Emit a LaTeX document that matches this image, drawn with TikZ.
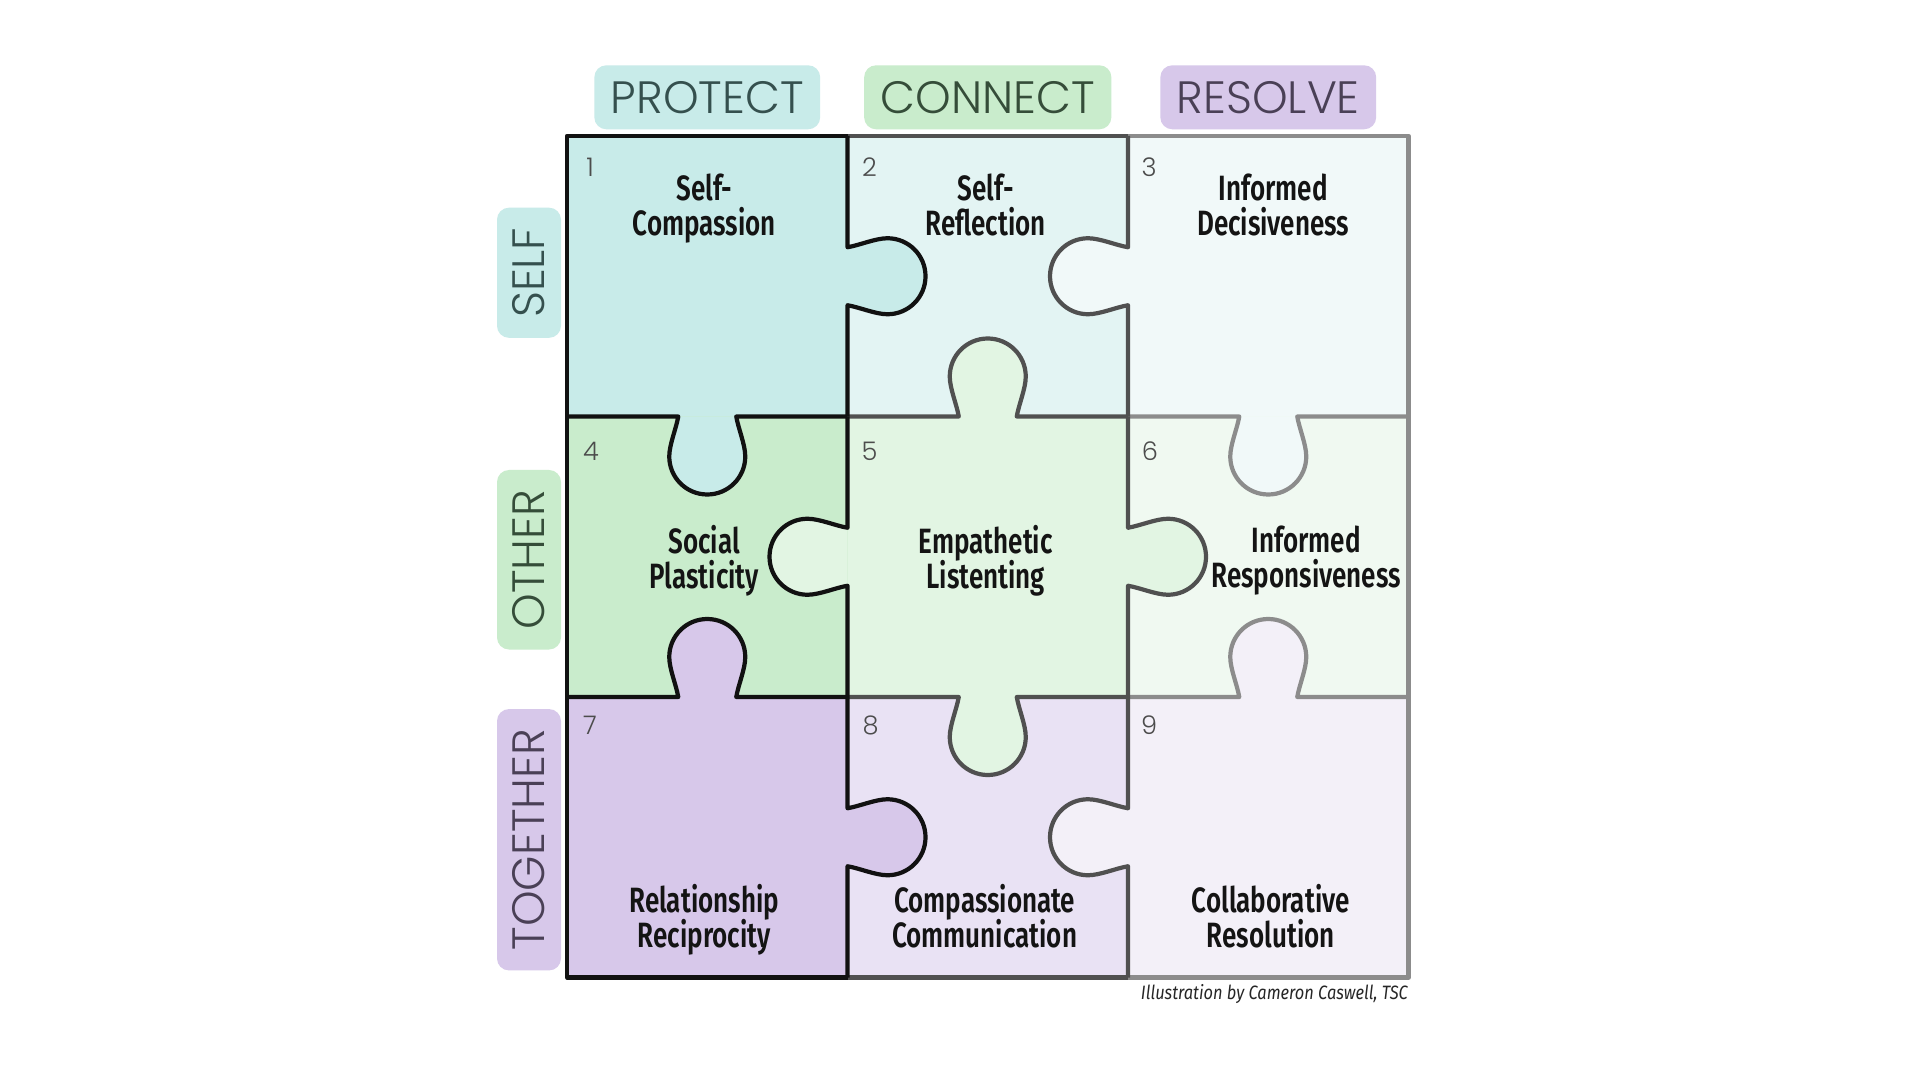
\documentclass[tikz,border=0pt]{standalone}
\usepackage{fontspec}
\setmainfont{Fira Sans}
\newfontfamily\piecefont[FakeStretch=0.74, BoldFont={* SemiBold}]{Fira Sans}
\newfontfamily\headfont{Poppins}[UprightFont={* Light}]
\newfontfamily\creditfont[FakeStretch=0.85]{Fira Sans}
\usepackage{xcolor}
\usetikzlibrary{positioning,calc}

\definecolor{selfA}{HTML}{C8EBE9}
\definecolor{selfB}{HTML}{E3F4F3}
\definecolor{selfC}{HTML}{F1F9F9}
\definecolor{otherA}{HTML}{C9ECCC}
\definecolor{otherB}{HTML}{E2F5E3}
\definecolor{otherC}{HTML}{F0F9F1}
\definecolor{togetherA}{HTML}{D7C8EA}
\definecolor{togetherB}{HTML}{E9E2F4}
\definecolor{togetherC}{HTML}{F3F0F8}
\definecolor{selfInk}{HTML}{35504E}
\definecolor{otherInk}{HTML}{354D39}
\definecolor{togetherInk}{HTML}{4A4056}
\definecolor{lineA}{HTML}{111111}
\definecolor{lineB}{HTML}{505050}
\definecolor{lineC}{HTML}{8C8C8C}

\newcommand{\tightlines}{\lineskiplimit=-6pt\relax}

% one side of a piece, 2.805 long, knob on the left of the way it runs
\newcommand{\knobfill}{(1.1125,0) .. controls (1.0925,0.12) and (1.0225,0.28) .. (1.0225,0.40)
  arc[start angle=180,end angle=0,radius=0.38]
  .. controls (1.7825,0.28) and (1.7125,0.12) .. (1.6925,0) -- cycle}
\newcommand{\knobedge}{(0,0) -- (1.1125,0) .. controls (1.0925,0.12) and (1.0225,0.28) .. (1.0225,0.40)
  arc[start angle=180,end angle=0,radius=0.38]
  .. controls (1.7825,0.28) and (1.7125,0.12) .. (1.6925,0) -- (2.805,0)}

\tikzset{
  piece/.style={minimum size=2.805cm, inner sep=0pt, outer sep=0pt},
  seam/.style={line width=1.2pt, line join=round},
  colhead/.style={rounded corners=0.12cm, minimum height=0.64cm, inner xsep=0.165cm,
    font=\headfont\fontsize{12.9}{13}\selectfont},
  rowhead/.style={colhead, rotate=90, inner xsep=0.2cm},
  numtag/.style={font=\headfont\fontsize{7.3}{8}\selectfont, text=black!70},
  piecetext/.style={align=center, text=black!92, text depth=2pt,
    font=\piecefont\bfseries\fontsize{10}{9.8}\selectfont\tightlines},
  credit/.style={font=\creditfont\itshape\fontsize{5.5}{6}\selectfont, text=black!85}
}

\begin{document}
\begin{tikzpicture}
  \useasboundingbox (0,0) rectangle (19.2,-10.8);
  \fill[white] (0,0) rectangle (19.2,-10.8);

  % the nine pieces
  \node[piece, fill=selfA] (c1) at (7.0725,-2.7625) {};
  \node[piece, fill=selfB, right=0pt of c1] (c2) {};
  \node[piece, fill=selfC, right=0pt of c2] (c3) {};
  \node[piece, fill=otherA, below=0pt of c1] (c4) {};
  \node[piece, fill=otherB, right=0pt of c4] (c5) {};
  \node[piece, fill=otherC, right=0pt of c5] (c6) {};
  \node[piece, fill=togetherA, below=0pt of c4] (c7) {};
  \node[piece, fill=togetherB, right=0pt of c7] (c8) {};
  \node[piece, fill=togetherC, right=0pt of c8] (c9) {};

  % knobs
  \fill[selfA, shift={(c1.north east)}, rotate=-90] \knobfill;
  \fill[selfC, shift={(c2.north east)}, rotate=-90, yscale=-1] \knobfill;
  \fill[selfA, shift={(c1.south west)}, yscale=-1] \knobfill;
  \fill[otherB, shift={(c2.south west)}] \knobfill;
  \fill[selfC, shift={(c3.south west)}, yscale=-1] \knobfill;
  \fill[otherB, shift={(c4.north east)}, rotate=-90, yscale=-1] \knobfill;
  \fill[otherB, shift={(c5.north east)}, rotate=-90] \knobfill;
  \fill[togetherA, shift={(c4.south west)}] \knobfill;
  \fill[otherB, shift={(c5.south west)}, yscale=-1] \knobfill;
  \fill[togetherC, shift={(c6.south west)}] \knobfill;
  \fill[togetherA, shift={(c7.north east)}, rotate=-90] \knobfill;
  \fill[togetherC, shift={(c8.north east)}, rotate=-90, yscale=-1] \knobfill;

  % outlines, light first
  \draw[seam, lineC] (c3.north west) -- (c3.north east) -- (c9.south east) -- (c9.south west);
  \draw[seam, lineC, shift={(c3.south west)}, yscale=-1] \knobedge;
  \draw[seam, lineC, shift={(c6.south west)}] \knobedge;

  \draw[seam, lineB] (c2.north west) -- (c2.north east);
  \draw[seam, lineB] (c8.south west) -- (c8.south east);
  \draw[seam, lineB, shift={(c2.north east)}, rotate=-90, yscale=-1] \knobedge;
  \draw[seam, lineB, shift={(c5.north east)}, rotate=-90] \knobedge;
  \draw[seam, lineB, shift={(c8.north east)}, rotate=-90, yscale=-1] \knobedge;
  \draw[seam, lineB, shift={(c2.south west)}] \knobedge;
  \draw[seam, lineB, shift={(c5.south west)}, yscale=-1] \knobedge;

  \draw[seam, lineA] (c1.north east) -- (c1.north west) -- (c7.south west) -- (c7.south east);
  \draw[seam, lineA, shift={(c1.north east)}, rotate=-90] \knobedge;
  \draw[seam, lineA, shift={(c4.north east)}, rotate=-90, yscale=-1] \knobedge;
  \draw[seam, lineA, shift={(c7.north east)}, rotate=-90] \knobedge;
  \draw[seam, lineA, shift={(c1.south west)}, yscale=-1] \knobedge;
  \draw[seam, lineA, shift={(c4.south west)}] \knobedge;

  % headers
  \node[colhead, fill=selfA, text=selfInk, above=0.06cm of c1] (h1) {PROTECT};
  \node[colhead, fill=otherA, text=otherInk, above=0.06cm of c2] (h2) {CONNECT};
  \node[colhead, fill=togetherA, text=togetherInk, above=0.06cm of c3] (h3) {RESOLVE};

  \node[rowhead, fill=selfA, text=selfInk] (r1) at ($(c1.west)+(-0.38,0.035)$) {SELF};
  \node[rowhead, fill=otherA, text=otherInk] (r2) at ($(c4.west)+(-0.38,-0.03)$) {OTHER};
  \node[rowhead, fill=togetherA, text=togetherInk] (r3) at ($(c7.west)+(-0.38,-0.025)$) {TOGETHER};

  % numbers
  \node[numtag] (n1) at ($(c1.north west)+(0.23,-0.31)$) {1};
  \node[numtag] (n2) at ($(c2.north west)+(0.22,-0.31)$) {2};
  \node[numtag] (n3) at ($(c3.north west)+(0.21,-0.31)$) {3};
  \node[numtag] (n4) at ($(c4.north west)+(0.24,-0.345)$) {4};
  \node[numtag] (n5) at ($(c5.north west)+(0.22,-0.345)$) {5};
  \node[numtag] (n6) at ($(c6.north west)+(0.22,-0.345)$) {6};
  \node[numtag] (n7) at ($(c7.north west)+(0.23,-0.28)$) {7};
  \node[numtag] (n8) at ($(c8.north west)+(0.23,-0.28)$) {8};
  \node[numtag] (n9) at ($(c9.north west)+(0.21,-0.28)$) {9};

  % names
  \node[piecetext] (t1) at ($(c1)+(-0.03,0.68)$) {Self-\\Compassion};
  \node[piecetext] (t2) at ($(c2)+(-0.02,0.68)$) {Self-\\Reflection};
  \node[piecetext] (t3) at ($(c3)+(0.05,0.68)$) {Informed\\Decisiveness};
  \node[piecetext] (t4) at ($(c4)+(-0.03,-0.035)$) {Social\\Plasticity};
  \node[piecetext] (t5) at ($(c5)+(-0.02,-0.035)$) {Empathetic\\Listenting};
  \node[piecetext] (t6) at ($(c6)+(0.38,-0.035)$) {Informed\\Responsiveness};
  \node[piecetext] (t7) at ($(c7)+(-0.03,-0.82)$) {Relationship\\Reciprocity};
  \node[piecetext] (t8) at ($(c8)+(-0.03,-0.82)$) {Compassionate\\Communication};
  \node[piecetext] (t9) at ($(c9)+(0.025,-0.82)$) {Collaborative\\Resolution};

  \node[credit, anchor=east, inner xsep=0pt] (cr) at ($(c9.south east)+(0,-0.17)$)
    {Illustration by Cameron Caswell, TSC};
\end{tikzpicture}
\end{document}
